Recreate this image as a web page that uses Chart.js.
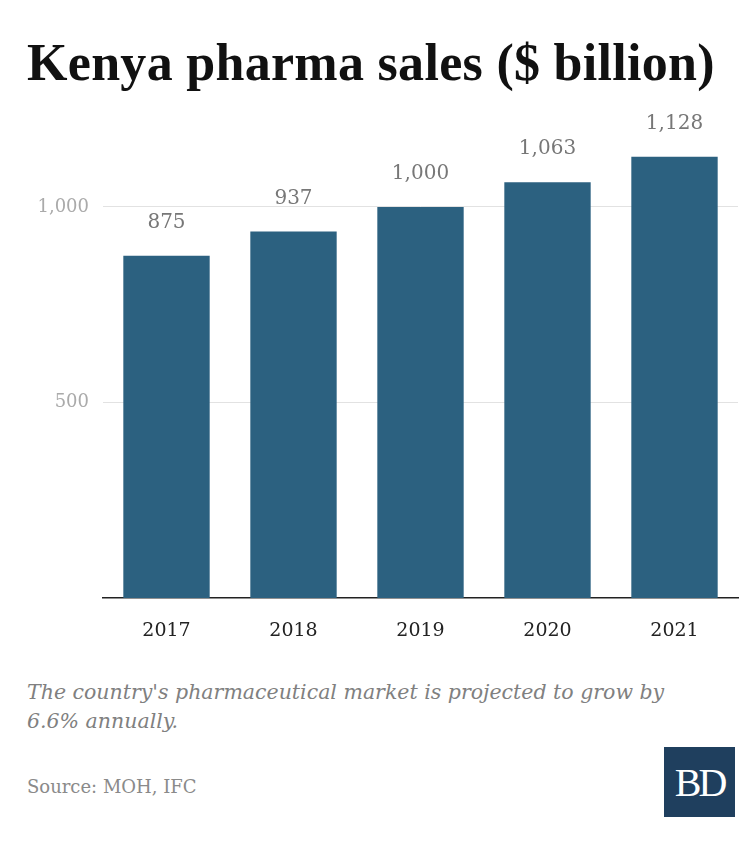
<!DOCTYPE html>
<html>
<head>
<meta charset="utf-8">
<script src="https://cdn.jsdelivr.net/npm/chart.js@4"></script>
<style>
  body { margin: 0; background: #fff; width: 756px; height: 849px; position: relative; font-family: "DejaVu Serif", Georgia, serif; }
  #title { position: absolute; left: 27px; top: 33px; font-weight: bold; color: #111; font-family: "Liberation Serif", "DejaVu Serif", serif; font-size: 52px; letter-spacing: 0.3px; }
  #wrap { position: absolute; left: 0; top: 100px; width: 756px; height: 560px; }
  #note { position: absolute; left: 27px; top: 678px; width: 670px; font-style: italic; color: #808080; font-size: 20.5px; line-height: 29px; }
  #source { position: absolute; left: 27px; top: 776px; color: #8a8a8a; font-size: 18px; }
  #logo { position: absolute; left: 664px; top: 747px; width: 71px; height: 70px; background: #1f3f5e; color: #fff; font-family: "Liberation Serif", serif; font-size: 40px; text-align: center; line-height: 72px; letter-spacing: -3px; }
</style>
</head>
<body>
<div id="title">Kenya pharma sales ($ billion)</div>
<div id="wrap"><canvas id="sales"></canvas></div>
<div id="note">The country's pharmaceutical market is projected to grow by 6.6% annually.</div>
<div id="source">Source: MOH, IFC</div>
<div id="logo">BD</div>
<script>
var years = ["2017", "2018", "2019", "2020", "2021"];
var sales = [875, 937, 1000, 1063, 1128];
var yTicks = [500, 1000];

// draws the value above each bar
var valueLabels = {
  id: 'valueLabels',
  afterDatasetsDraw: function(chart) {
    var ctx = chart.ctx;
    var meta = chart.getDatasetMeta(0);
    ctx.save();
    ctx.font = '20px "DejaVu Serif", serif';
    ctx.fillStyle = '#777';
    ctx.textAlign = 'center';
    ctx.textBaseline = 'middle';
    meta.data.forEach(function(bar, i) {
      ctx.fillText(sales[i].toLocaleString('en-US'), bar.x, bar.y - 33);
    });
    ctx.restore();
  }
};

new Chart(document.getElementById('sales'), {
  type: 'bar',
  data: {
    labels: years,
    datasets: [{
      data: sales,
      backgroundColor: '#2c6180',
      categoryPercentage: 0.68,
      barPercentage: 1
    }]
  },
  plugins: [valueLabels],
  options: {
    responsive: true,
    maintainAspectRatio: false,
    animation: false,
    layout: { padding: { left: 0, right: 18, top: 10, bottom: 0 } },
    plugins: { legend: { display: false }, tooltip: { enabled: false } },
    scales: {
      x: {
        grid: { display: false },
        border: { color: '#222', width: 1.5 },
        ticks: { color: '#222', font: { family: '"DejaVu Serif", serif', size: 19 }, padding: 14 },
        afterFit: function(scale) { scale.height = 62; }
      },
      y: {
        min: 0,
        max: 1210,
        border: { display: false },
        grid: { color: '#e2e2e2', drawTicks: false },
        afterBuildTicks: function(scale) { scale.ticks = yTicks.map(function(v) { return { value: v }; }); },
        ticks: {
          color: '#aaa',
          font: { family: '"DejaVu Serif", serif', size: 18 },
          padding: 14,
          callback: function(v) { return v.toLocaleString('en-US'); }
        },
        afterFit: function(scale) { scale.width = 103; }
      }
    }
  }
});
</script>
</body>
</html>
